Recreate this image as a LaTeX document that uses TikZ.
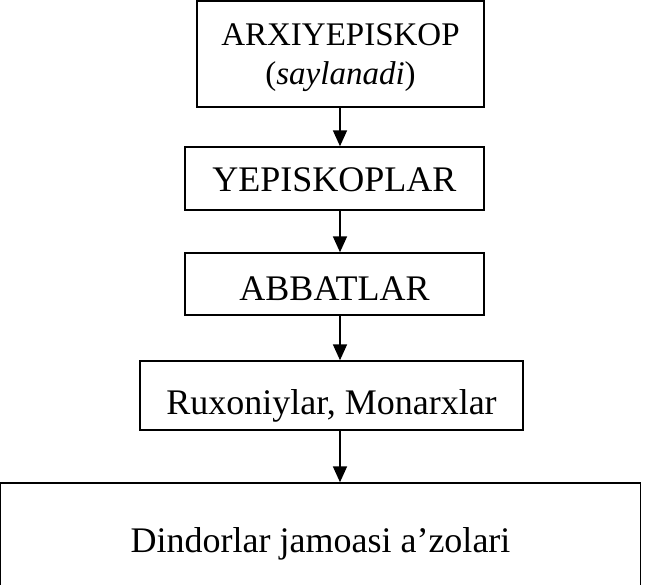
\documentclass[tikz,border=0pt]{standalone}
\usepackage{fontspec}
\setmainfont{Liberation Serif}
\usetikzlibrary{positioning,arrows.meta}

\tikzset{
    rank/.style={draw, line width=1.4pt, rectangle, inner sep=0pt, align=center,
        font=\fontsize{36}{40}\selectfont, text depth=0pt},
    down/.style={-{Triangle[length=16pt,width=14pt]}, line width=1.8pt}
}

\begin{document}
\begin{tikzpicture}[x=1pt,y=-1pt]
        \useasboundingbox (0,0) rectangle (654,585);
        \clip (0,0) rectangle (654,585);

        \node[rank, minimum width=287pt, minimum height=106pt, font=\fontsize{33}{39}\selectfont, text depth=]
            (arxi) at (340.5,54) {\rule{0pt}{30pt}ARXIYEPISKOP\\(\textit{saylanadi})};
        \node[rank, minimum width=299pt, minimum height=63pt, text height=27pt] (yepiskop) at (334.5,178.5) {YEPISKOPLAR};
        \node[rank, minimum width=299pt, minimum height=62pt, text height=34pt] (abbat) at (334.5,284) {ABBATLAR};
        \node[rank, minimum width=383pt, minimum height=69pt, text height=38pt] (ruxoniy) at (331.5,395.5) {Ruxoniylar, Monarxlar};
        \node[rank, minimum width=640pt, minimum height=114pt, text height=24pt] (dindor) at (320.5,540) {Dindorlar jamoasi a’zolari};

        \draw[down] (arxi.south -| 340,0) -- (yepiskop.north -| 340,0);
        \draw[down] (yepiskop.south -| 340,0) -- (abbat.north -| 340,0);
        \draw[down] (abbat.south -| 340,0) -- (ruxoniy.north -| 340,0);
        \draw[down] (ruxoniy.south -| 340,0) -- (dindor.north -| 340,0);
    \end{tikzpicture}
\end{document}
